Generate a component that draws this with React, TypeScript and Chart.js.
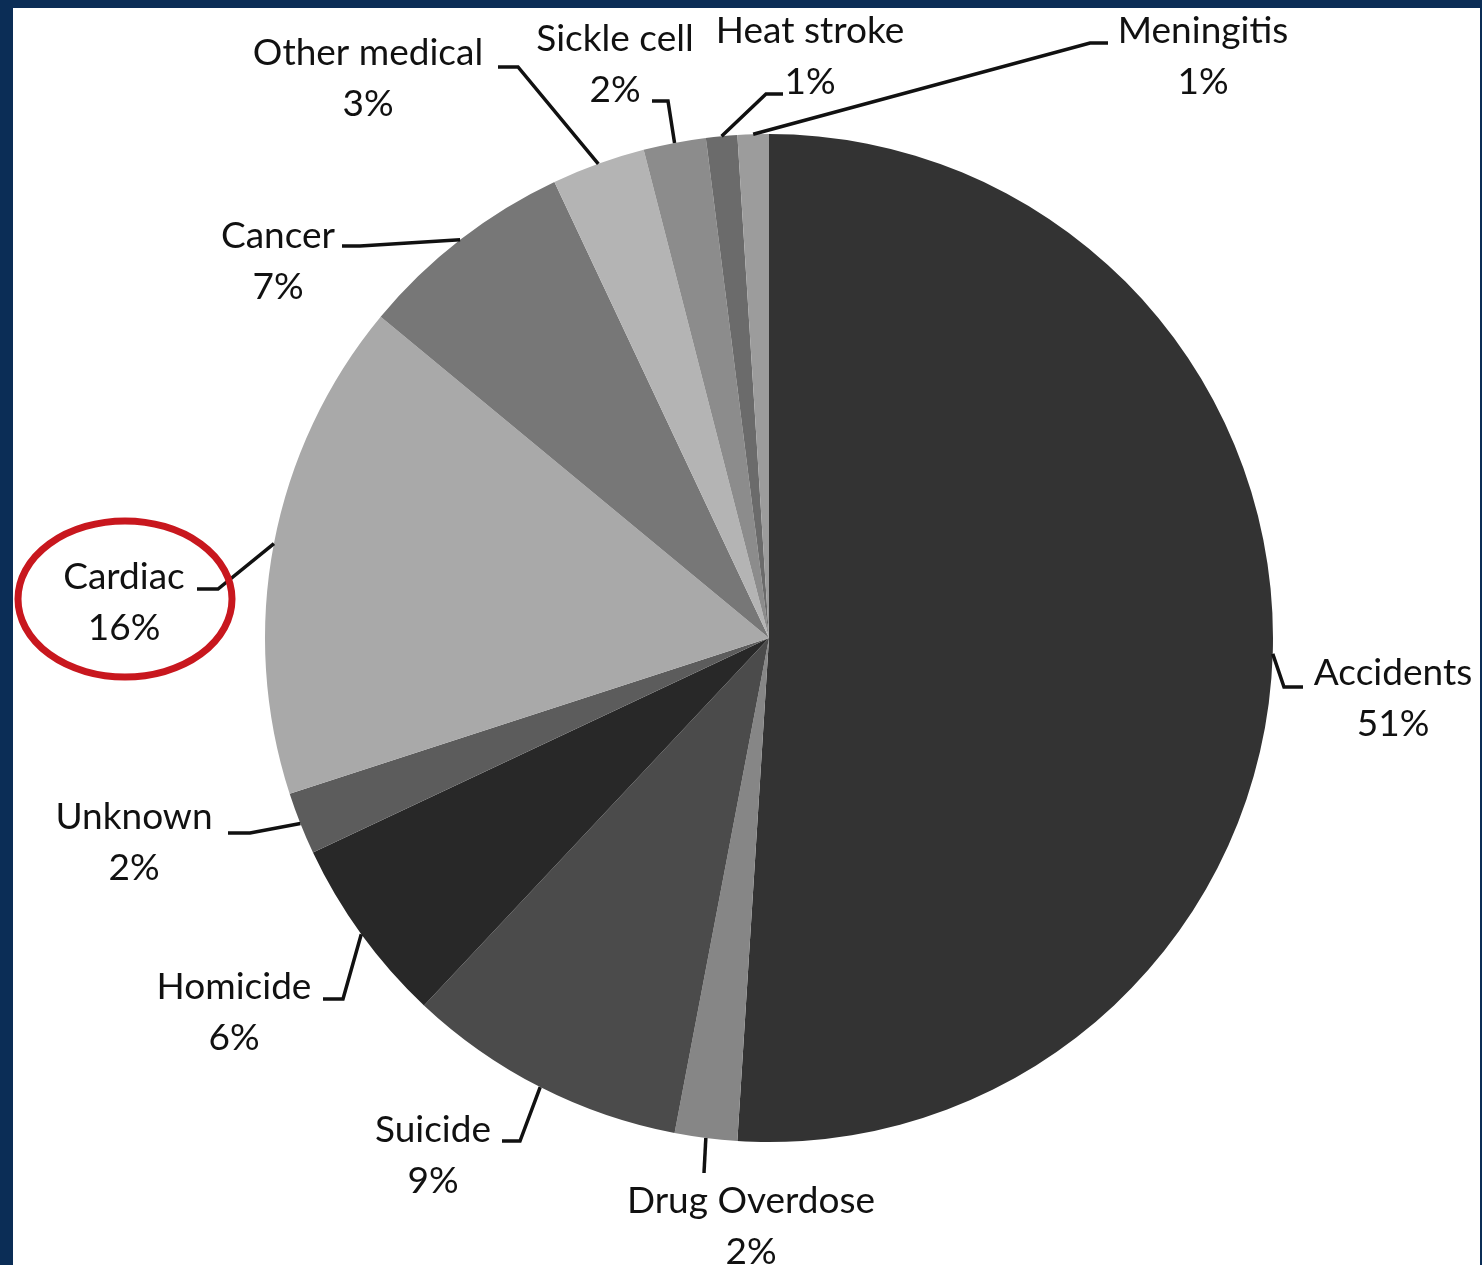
import { useEffect, useRef } from "react";
import { Chart, registerables } from "chart.js";

Chart.register(...registerables);

const causes = [
  "Accidents",
  "Drug Overdose",
  "Suicide",
  "Homicide",
  "Unknown",
  "Cardiac",
  "Cancer",
  "Other medical",
  "Sickle cell",
  "Heat stroke",
  "Meningitis",
];
const shares = [51, 2, 9, 6, 2, 16, 7, 3, 2, 1, 1];
const shareLabels = ["51%", "2%", "9%", "6%", "2%", "16%", "7%", "3%", "2%", "1%", "1%"];
const highlighted = "Cardiac";

const sliceColors = [
  "#333333",
  "#868686",
  "#4b4b4b",
  "#282828",
  "#5c5c5c",
  "#a9a9a9",
  "#777777",
  "#b4b4b4",
  "#8c8c8c",
  "#6b6b6b",
  "#9c9c9c",
];

// label placement, offsets from the pie centre in px
// t = text (first line centre), e = elbow of the leader, k = end of the short tick
const labelLayout = [
  { t: [624, 35], e: [515, 49], k: [534, 49] },
  { t: [-18, 563], e: [-65, 535], k: [-65, 535] },
  { t: [-336, 492], e: [-249, 503], k: [-267, 503] },
  { t: [-535, 349], e: [-426, 361], k: [-446, 361] },
  { t: [-635, 179], e: [-519, 195], k: [-541, 195] },
  { t: [-645, -61], e: [-551, -49], k: [-572, -49] },
  { t: [-491, -402], e: [-409, -392], k: [-427, -392] },
  { t: [-401, -585], e: [-251, -571], k: [-271, -571] },
  { t: [-154, -599], e: [-101, -537], k: [-117, -537] },
  { t: [41, -607], e: [-3, -544], k: [14, -544] },
  { t: [434, -607], e: [321, -595], k: [339, -595] },
];

const FONT = "37px Lato, 'Open Sans', sans-serif";
const LINE_GAP = 51;

const calloutPlugin = {
  id: "callouts",
  afterDatasetsDraw(chart: Chart) {
    const ctx = chart.ctx;
    const arcs = chart.getDatasetMeta(0).data as any[];
    ctx.save();
    arcs.forEach((arc, i) => {
      const { x, y, startAngle, endAngle, outerRadius } = arc.getProps(
        ["x", "y", "startAngle", "endAngle", "outerRadius"],
        true
      );
      const mid = (startAngle + endAngle) / 2;
      const px = x + Math.cos(mid) * outerRadius;
      const py = y + Math.sin(mid) * outerRadius;
      const L = labelLayout[i];

      ctx.strokeStyle = "#111";
      ctx.lineWidth = 3.5;
      ctx.lineJoin = "miter";
      ctx.beginPath();
      ctx.moveTo(px, py);
      ctx.lineTo(x + L.e[0], y + L.e[1]);
      ctx.lineTo(x + L.k[0], y + L.k[1]);
      ctx.stroke();

      ctx.fillStyle = "#111";
      ctx.font = FONT;
      ctx.textAlign = "center";
      ctx.textBaseline = "middle";
      ctx.fillText(causes[i], x + L.t[0], y + L.t[1]);
      ctx.fillText(shareLabels[i], x + L.t[0], y + L.t[1] + LINE_GAP);

      if (causes[i] === highlighted) {
        ctx.strokeStyle = "#c8171e";
        ctx.lineWidth = 7;
        ctx.beginPath();
        ctx.ellipse(x + L.t[0] + 1, y + L.t[1] + 22, 107, 78, 0, 0, Math.PI * 2);
        ctx.stroke();
      }
    });
    ctx.restore();
  },
};

export default function App() {
  const canvasRef = useRef<HTMLCanvasElement>(null);
  const chartRef = useRef<Chart | null>(null);

  useEffect(() => {
    document.body.style.margin = "0";
    if (!canvasRef.current) return;
    if (chartRef.current) chartRef.current.destroy();

    chartRef.current = new Chart(canvasRef.current, {
      type: "pie",
      data: {
        labels: causes,
        datasets: [
          {
            data: shares,
            backgroundColor: sliceColors,
            borderWidth: 0,
          },
        ],
      },
      options: {
        responsive: true,
        maintainAspectRatio: false,
        animation: false,
        layout: { padding: { left: 252, right: 207, top: 126, bottom: 123 } },
        plugins: {
          legend: { display: false },
          tooltip: { enabled: false },
        },
      },
      plugins: [calloutPlugin],
    });

    return () => {
      if (chartRef.current) {
        chartRef.current.destroy();
        chartRef.current = null;
      }
    };
  }, []);

  return (
    <div style={{ position: "relative", width: 1482, height: 1265, background: "#0b2d56" }}>
      <div
        style={{
          position: "absolute",
          left: 13,
          top: 8,
          width: 1467,
          height: 1257,
          background: "#ffffff",
        }}
      >
        <canvas ref={canvasRef}></canvas>
      </div>
    </div>
  );
}
